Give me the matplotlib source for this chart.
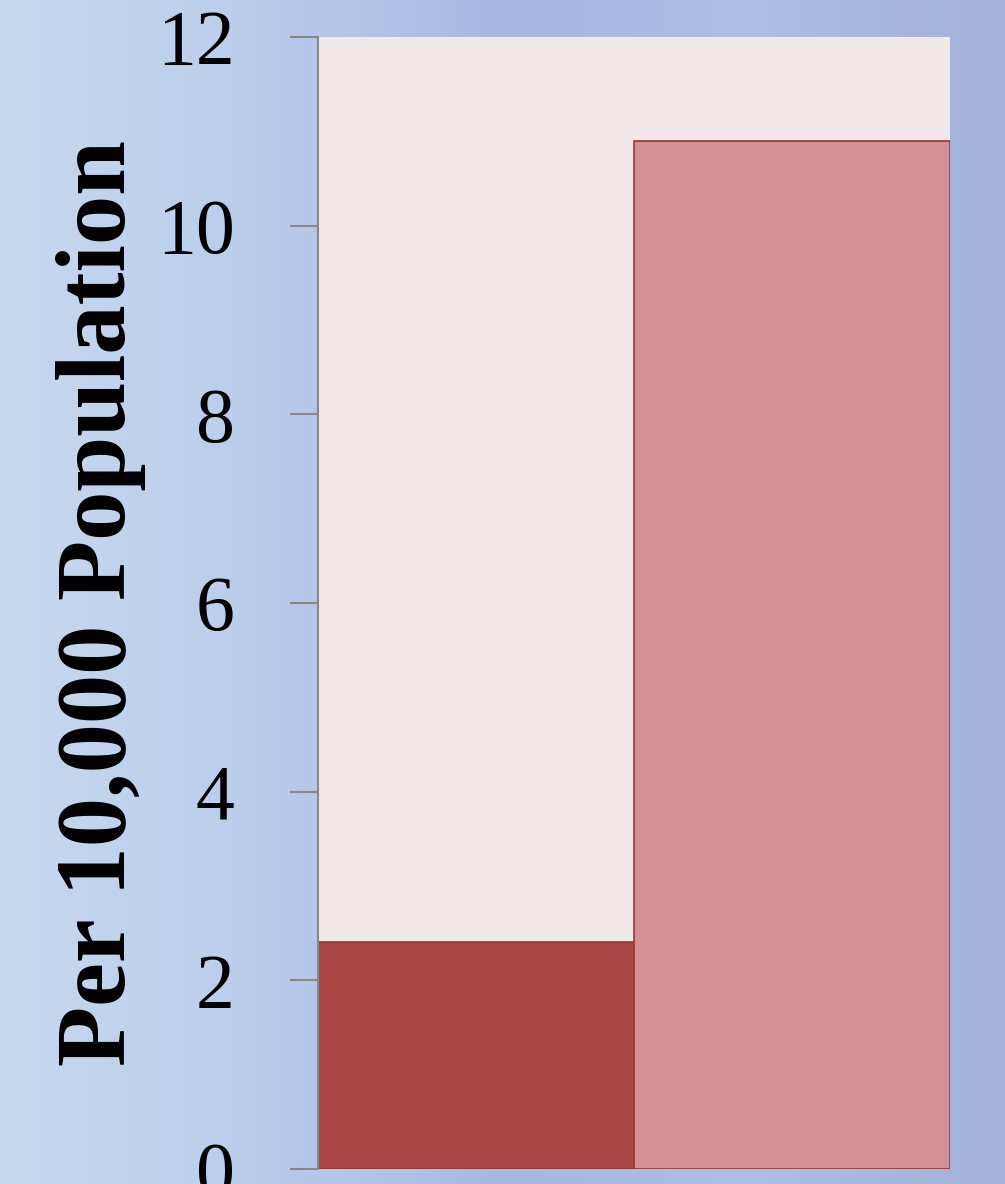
import numpy as np
import matplotlib.pyplot as plt
from matplotlib.colors import LinearSegmentedColormap

# dati
categorie = ['A', 'B']
valori = [2.41, 10.9]
colori = ['#A84644', '#D39193']
yticks = [0, 2, 4, 6, 8, 10, 12]

fig = plt.figure(figsize=(10.05, 11.84), dpi=100)

# sfondo sfumato (al posto della foto)
bg = fig.add_axes([0, 0, 1, 1], zorder=-1)
cmap = LinearSegmentedColormap.from_list(
    'sfondo', ['#C6D9EF', '#BACDEB', '#A9B8E2', '#AEBEE4', '#A4B2D8'])
grad = np.linspace(0, 1, 256).reshape(1, -1)
bg.imshow(grad, aspect='auto', cmap=cmap, extent=[0, 1, 0, 1])
bg.axis('off')

ax = fig.add_axes([0.3164, 0.0127, 0.6289, 0.9561])
ax.set_facecolor('#F2E8E8')
ax.bar(np.arange(len(valori)), valori, width=1.0, color=colori,
       edgecolor='#9B3535', linewidth=1.2)
ax.set_xlim(-0.5, 1.5)
ax.set_ylim(0, 12)

ax.set_yticks(yticks)
ax.set_yticklabels([str(t) for t in yticks], fontsize=56, family='Liberation Serif')
ax.tick_params(axis='y', length=20, width=1.5, color='#888888', pad=40)
ax.set_xticks([])
for s in ['top', 'right', 'bottom']:
    ax.spines[s].set_visible(False)
ax.spines['left'].set_color('#888888')
ax.spines['left'].set_linewidth(1.5)

fig.text(0.100, 0.491, 'Per 10,000 Population', rotation=90, ha='center', va='center',
         fontsize=71, fontweight='bold', family='Liberation Serif')

fig.savefig('out.png', dpi=100)
